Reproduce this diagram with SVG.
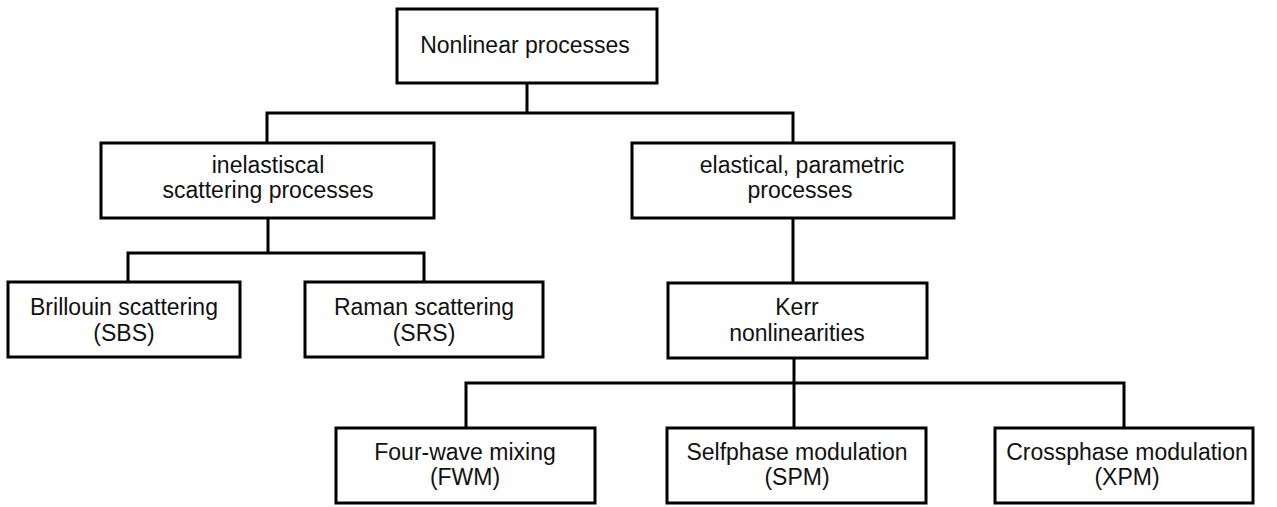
<svg xmlns="http://www.w3.org/2000/svg" width="1277" height="507" viewBox="0 0 1277 507">
<style>
.box{fill:#fff;stroke:#000;stroke-width:3}
.ln{fill:none;stroke:#000;stroke-width:3}
text{font-family:"Liberation Sans",Arial,sans-serif;font-size:23px;fill:#111;text-anchor:middle}
</style>
<rect width="1277" height="507" fill="#fff"/>
<g id="connectors">
<polyline class="ln" points="527,83 527,113"/>
<polyline class="ln" points="267,143 267,113 793,113 793,143"/>
<polyline class="ln" points="268,218 268,253"/>
<polyline class="ln" points="128,282 128,253 424,253 424,282"/>
<polyline class="ln" points="793,218 793,283"/>
<polyline class="ln" points="794,358 794,428"/>
<polyline class="ln" points="466,428 466,383 1124,383 1124,428"/>
</g>
<g id="root">
<rect class="box" x="397" y="9" width="260" height="74"/>
<text x="525" y="53">Nonlinear processes</text>
</g>
<g id="inelastic">
<rect class="box" x="101" y="143" width="333" height="75"/>
<text x="268" y="173">inelastiscal</text>
<text x="268" y="198">scattering processes</text>
</g>
<g id="elastic">
<rect class="box" x="632" y="143" width="322" height="75"/>
<text x="802" y="173">elastical, parametric</text>
<text x="800" y="198">processes</text>
</g>
<g id="brillouin">
<rect class="box" x="8" y="282" width="232" height="75"/>
<text x="124" y="315">Brillouin scattering</text>
<text x="124" y="341">(SBS)</text>
</g>
<g id="raman">
<rect class="box" x="305" y="282" width="238" height="75"/>
<text x="424" y="315">Raman scattering</text>
<text x="424" y="341">(SRS)</text>
</g>
<g id="kerr">
<rect class="box" x="668" y="283" width="259" height="75"/>
<text x="797" y="315">Kerr</text>
<text x="797" y="341">nonlinearities</text>
</g>
<g id="fwm">
<rect class="box" x="336" y="428" width="259" height="75"/>
<text x="465" y="460">Four-wave mixing</text>
<text x="465" y="485">(FWM)</text>
</g>
<g id="spm">
<rect class="box" x="667" y="428" width="259" height="75"/>
<text x="797" y="460">Selfphase modulation</text>
<text x="797" y="485">(SPM)</text>
</g>
<g id="xpm">
<rect class="box" x="995" y="428" width="258" height="75"/>
<text x="1127" y="460">Crossphase modulation</text>
<text x="1127" y="485">(XPM)</text>
</g>
</svg>
